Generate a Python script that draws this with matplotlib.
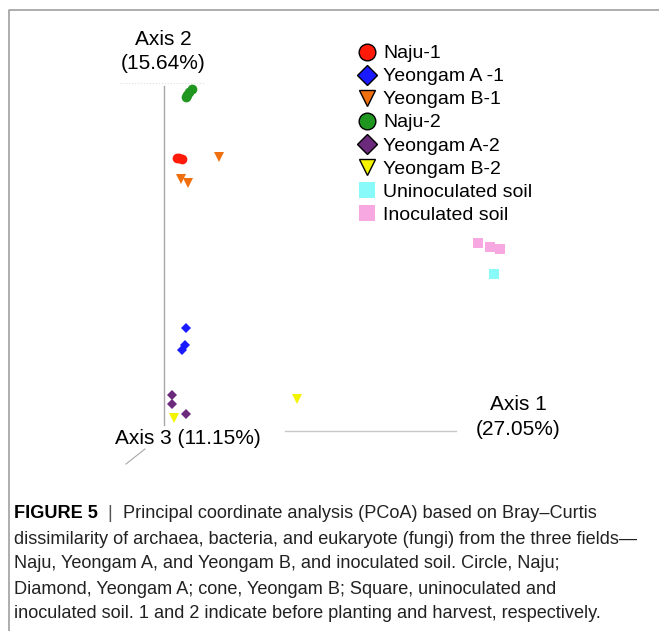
import matplotlib
matplotlib.use("Agg")
import matplotlib.pyplot as plt
from matplotlib.lines import Line2D

plt.rcParams['font.family'] = ['Liberation Sans', 'DejaVu Sans']

# PCoA scores (axis 1, axis 2)
naju1_x = [0.026, 0.036, 0.030]
naju1_y = [0.546, 0.544, 0.546]
naju2_x = [0.044, 0.050, 0.056, 0.046]
naju2_y = [0.668, 0.678, 0.684, 0.672]
yeoA1_x = [0.044, 0.042, 0.036]
yeoA1_y = [0.206, 0.172, 0.162]
yeoB1_x = [0.110, 0.034, 0.048]
yeoB1_y = [0.548, 0.504, 0.496]
yeoA2_x = [0.016, 0.016, 0.044]
yeoA2_y = [0.072, 0.054, 0.034]
yeoB2_x = [0.020, 0.266]
yeoB2_y = [0.026, 0.064]
unino_x = [0.660]
unino_y = [0.314]
ino_x = [0.628, 0.652, 0.672]
ino_y = [0.376, 0.368, 0.364]

labels = ["Naju-1", "Yeongam A -1", "Yeongam B-1", "Naju-2",
          "Yeongam A-2", "Yeongam B-2", "Uninoculated soil", "Inoculated soil"]
axis_labels = ["Axis 1\n(27.05%)", "Axis 2\n(15.64%)", "Axis 3 (11.15%)"]

caption_head = "FIGURE 5"
caption_lines = [
    "Principal coordinate analysis (PCoA) based on Bray\u2013Curtis",
    "dissimilarity of archaea, bacteria, and eukaryote (fungi) from the three fields\u2014",
    "Naju, Yeongam A, and Yeongam B, and inoculated soil. Circle, Naju;",
    "Diamond, Yeongam A; cone, Yeongam B; Square, uninoculated and",
    "inoculated soil. 1 and 2 indicate before planting and harvest, respectively.",
]

W, H = 659, 631
fig = plt.figure(figsize=(W / 100, H / 100), dpi=100)

# decoration layer in pixel coordinates
deco = fig.add_axes([0, 0, 1, 1])
deco.set_xlim(0, W)
deco.set_ylim(H, 0)
deco.axis('off')

# scatter layer: origin at the axis corner, 500 px per unit
sc = fig.add_axes([0, 0, 1, 1], facecolor='none')
sc.set_xlim(-164 / 500, (W - 164) / 500)
sc.set_ylim((431 - H) / 500, 431 / 500)
sc.axis('off')

# page frame
deco.plot([9, 9, W], [H, 10, 10], color='#a0a0a0', lw=1.2)

# PCoA axes
deco.plot([164, 164], [86, 425], color='#a8a8a8', lw=1.0)
deco.plot([285, 456], [431, 431], color='#c8c8c8', lw=1.0)
deco.plot([126, 145], [464, 449], color='#a8a8a8', lw=0.8)
deco.plot([120, 205], [83, 83], color='#e0e0e0', lw=0.8, ls=':')

deco.text(163, 51.5, axis_labels[1], ha='center', va='center', fontsize=15, linespacing=1.37)
deco.text(518, 417, axis_labels[0], ha='center', va='center', fontsize=15, linespacing=1.37)
deco.text(188, 439, axis_labels[2], ha='center', va='center', fontsize=15)

styles = [
    (naju1_x, naju1_y, 'o', '#ff1a0a', 7),
    (yeoA1_x, yeoA1_y, 'D', '#1a1aff', 4.8),
    (yeoB1_x, yeoB1_y, 'v', '#f07010', 6.5),
    (naju2_x, naju2_y, 'o', '#1f961f', 7),
    (yeoA2_x, yeoA2_y, 'D', '#6b2a7b', 4.8),
    (yeoB2_x, yeoB2_y, 'v', '#f4f400', 6.5),
    (unino_x, unino_y, 's', '#88fafa', 6.5),
    (ino_x, ino_y, 's', '#f8a8e0', 6.5),
]
handles = []
for (x, y, m, c, ms), lab in zip(styles, labels):
    sc.plot(x, y, ls='none', marker=m, color=c, markersize=ms, markeredgewidth=0)
    if m == 's':
        h = Line2D([], [], ls='none', marker=m, markerfacecolor=c,
                   markeredgewidth=0, markersize=11)
    else:
        h = Line2D([], [], ls='none', marker=m, markerfacecolor=c,
                   markeredgecolor='black', markeredgewidth=1.0,
                   markersize=12 if m != 'D' else 10.5)
    handles.append(h)

leg = deco.legend(handles, labels, loc='upper left',
                  bbox_to_anchor=(348 / W, 1 - 35 / H),
                  bbox_transform=fig.transFigure,
                  frameon=False, fontsize=14, handlelength=1.0,
                  handletextpad=0.3, labelspacing=0.28, borderpad=0)

# caption
cap_fam = ['Liberation Sans Narrow', 'Liberation Sans', 'DejaVu Sans']
cap_fs = 13.1
head = deco.text(14, 513, caption_head, fontsize=cap_fs, fontweight='bold',
                 family=cap_fam, va='center', ha='left')
bar = deco.annotate("  |  ", xy=(1, 0.5), xycoords=head, va='center', ha='left',
                    fontsize=cap_fs, family=cap_fam, color='#555555')
deco.annotate(caption_lines[0], xy=(1, 0.5), xycoords=bar, va='center', ha='left',
              fontsize=cap_fs, family=cap_fam, color='#222222')
for i, line in enumerate(caption_lines[1:]):
    deco.text(14, 539 + 25 * i, line, fontsize=cap_fs, family=cap_fam,
              va='center', ha='left', color='#222222')

fig.savefig("out.png", dpi=100)
